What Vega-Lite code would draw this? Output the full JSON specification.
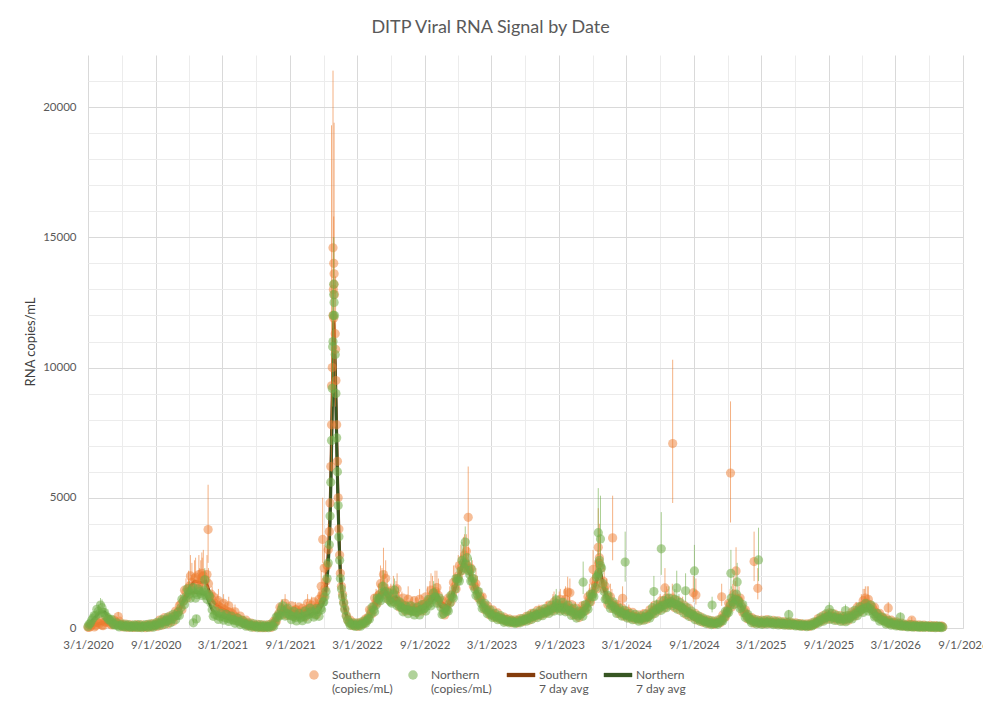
{
  "$schema": "https://vega.github.io/schema/vega-lite/v6.json",
  "width": 875,
  "height": 573,
  "autosize": "none",
  "padding": {"left": 88, "top": 55, "right": 20, "bottom": 83},
  "background": "white",
  "title": {"text": "DITP Viral RNA Signal by Date", "font": "Lato", "fontSize": 18, "fontWeight": "normal", "color": "#595959", "anchor": "middle", "frame": "group", "dx": -35, "offset": 18},
  "config": {
    "view": {"stroke": null},
    "font": "Lato",
    "axis": {"labelFont": "Lato", "labelFontSize": 11.5, "labelColor": "#595959", "titleFont": "Lato", "titleFontSize": 13, "titleColor": "#404040", "titleFontWeight": "normal", "ticks": false},
    "legend": {"labelFont": "Lato", "labelFontSize": 12, "labelColor": "#595959", "symbolStrokeWidth": 0, "padding": 0}
  },
  "datasets": {
    "m": [
      {"d":"2020-03-01","s":30,"n":60,"sa":30,"na":50},
      {"d":"2020-03-08","s":70,"n":190},
      {"d":"2020-03-15","s":130,"n":380,"sa":110,"na":330},
      {"d":"2020-03-22","s":90,"n":470},
      {"d":"2020-03-29","s":210,"n":640,"nh":900},
      {"d":"2020-04-01","s":160,"n":560,"sa":170,"na":600},
      {"d":"2020-04-08","s":110,"n":780,"nh":1100},
      {"d":"2020-04-15","s":240,"n":590,"sa":200,"na":620},
      {"d":"2020-04-22","s":270,"n":420},
      {"d":"2020-04-29","s":170,"n":320},
      {"d":"2020-05-01","s":220,"n":260,"sa":210,"na":260},
      {"d":"2020-05-08","s":150,"n":170},
      {"d":"2020-05-15","s":240,"n":120,"sa":230,"na":130},
      {"d":"2020-05-22","s":440,"n":90,"sh":620},
      {"d":"2020-05-29","s":140,"n":110},
      {"d":"2020-06-01","s":110,"n":80,"sa":120,"na":90},
      {"d":"2020-06-08","s":80,"n":60},
      {"d":"2020-06-15","s":60,"n":90,"sa":75,"na":70},
      {"d":"2020-06-22","s":70,"n":50},
      {"d":"2020-06-29","s":40,"n":70},
      {"d":"2020-07-01","s":60,"n":40,"sa":55,"na":55},
      {"d":"2020-07-08","s":50,"n":80},
      {"d":"2020-07-15","s":80,"n":40,"sa":60,"na":55},
      {"d":"2020-07-22","s":40,"n":60},
      {"d":"2020-07-29","s":60,"n":50},
      {"d":"2020-08-01","s":50,"n":70,"sa":60,"na":60},
      {"d":"2020-08-08","s":90,"n":50},
      {"d":"2020-08-15","s":60,"n":90,"sa":75,"na":75},
      {"d":"2020-08-22","s":110,"n":70},
      {"d":"2020-08-29","s":90,"n":120},
      {"d":"2020-09-01","s":150,"n":110,"sa":130,"na":120},
      {"d":"2020-09-08","s":180,"n":160},
      {"d":"2020-09-15","s":220,"n":190,"sa":210,"na":190},
      {"d":"2020-09-22","s":270,"n":230},
      {"d":"2020-09-29","s":250,"n":300},
      {"d":"2020-10-01","s":340,"n":260,"sa":300,"na":270},
      {"d":"2020-10-08","s":290,"n":330},
      {"d":"2020-10-15","s":410,"n":340,"sa":380,"na":350},
      {"d":"2020-10-22","s":430,"n":460},
      {"d":"2020-10-29","s":580,"n":480,"sh":800},
      {"d":"2020-11-01","s":620,"n":610,"sa":620,"na":580},
      {"d":"2020-11-08","s":920,"n":780,"sh":1300},
      {"d":"2020-11-15","s":1050,"n":1030,"sa":1080,"na":1000},
      {"d":"2020-11-22","s":1380,"n":1200,"sh":1900},
      {"d":"2020-11-29","s":1520,"n":1390,"sh":2200},
      {"d":"2020-12-01","s":1600,"n":1300,"sa":1550,"na":1350,"nh":1800},
      {"d":"2020-12-08","s":1750,"n":1430,"sh":2500},
      {"d":"2020-12-15","s":1900,"n":1340,"sa":1800,"na":1380,"sh":2600,"nh":1700},
      {"d":"2020-12-22","s":1650,"n":1280},
      {"d":"2020-12-29","s":1720,"n":1410,"sh":2300},
      {"d":"2021-01-01","s":1800,"n":1330,"sa":1750,"na":1330,"sh":2600},
      {"d":"2021-01-08","s":2000,"n":1380,"sh":3000},
      {"d":"2021-01-15","s":1850,"n":1250,"sa":1800,"na":1280,"nh":1700},
      {"d":"2021-01-22","s":1700,"n":1300,"sh":2300},
      {"d":"2021-01-29","s":1300,"n":950},
      {"d":"2021-02-01","s":1100,"n":700,"sa":1050,"na":700,"sh":1600},
      {"d":"2021-02-08","s":950,"n":520},
      {"d":"2021-02-15","s":880,"n":480,"sa":870,"na":480,"sh":1300},
      {"d":"2021-02-22","s":800,"n":430,"sh":1150},
      {"d":"2021-03-01","s":760,"n":450,"sa":740,"na":440},
      {"d":"2021-03-08","s":700,"n":390,"sh":1050},
      {"d":"2021-03-15","s":640,"n":370,"sa":640,"na":370,"sh":950},
      {"d":"2021-03-22","s":600,"n":340},
      {"d":"2021-03-29","s":540,"n":320,"sh":800},
      {"d":"2021-04-01","s":460,"n":300,"sa":450,"na":300},
      {"d":"2021-04-08","s":400,"n":270},
      {"d":"2021-04-15","s":340,"n":250,"sa":340,"na":240},
      {"d":"2021-04-22","s":300,"n":210},
      {"d":"2021-04-29","s":240,"n":170},
      {"d":"2021-05-01","s":200,"n":150,"sa":200,"na":150},
      {"d":"2021-05-08","s":150,"n":120},
      {"d":"2021-05-15","s":120,"n":100,"sa":120,"na":100},
      {"d":"2021-05-22","s":90,"n":80},
      {"d":"2021-05-29","s":80,"n":70},
      {"d":"2021-06-01","s":70,"n":60,"sa":65,"na":60},
      {"d":"2021-06-08","s":60,"n":50},
      {"d":"2021-06-15","s":50,"n":60,"sa":50,"na":50},
      {"d":"2021-06-22","s":40,"n":40},
      {"d":"2021-06-29","s":60,"n":40},
      {"d":"2021-07-01","s":50,"n":50,"sa":55,"na":45},
      {"d":"2021-07-08","s":70,"n":60},
      {"d":"2021-07-15","s":110,"n":90,"sa":100,"na":80},
      {"d":"2021-07-22","s":260,"n":210},
      {"d":"2021-07-29","s":460,"n":400},
      {"d":"2021-08-01","s":560,"n":520,"sa":550,"na":500},
      {"d":"2021-08-08","s":760,"n":700,"sh":1100,"nh":950},
      {"d":"2021-08-15","s":680,"n":640,"sa":700,"na":640},
      {"d":"2021-08-22","s":720,"n":560,"sh":1000},
      {"d":"2021-08-29","s":640,"n":520},
      {"d":"2021-09-01","s":600,"n":480,"sa":610,"na":480},
      {"d":"2021-09-08","s":540,"n":440,"sh":850},
      {"d":"2021-09-15","s":700,"n":400,"sa":640,"na":420,"sh":1000},
      {"d":"2021-09-22","s":590,"n":460},
      {"d":"2021-09-29","s":520,"n":380},
      {"d":"2021-10-01","s":560,"n":420,"sa":560,"na":420,"nh":700},
      {"d":"2021-10-08","s":650,"n":450},
      {"d":"2021-10-15","s":700,"n":490,"sa":690,"na":490,"sh":1000},
      {"d":"2021-10-22","s":760,"n":530},
      {"d":"2021-10-29","s":880,"n":640,"sh":1200},
      {"d":"2021-11-01","s":700,"n":560,"sa":730,"na":560},
      {"d":"2021-11-08","s":760,"n":500,"sh":1100},
      {"d":"2021-11-15","s":820,"n":620,"sa":830,"na":600},
      {"d":"2021-11-22","s":980,"n":760},
      {"d":"2021-11-29","s":1250,"n":1000,"sh":1900},
      {"d":"2021-12-01","s":1200,"n":1000,"sa":1200,"na":1000},
      {"d":"2021-12-04","s":1500,"n":1200,"sa":1450,"na":1200},
      {"d":"2021-12-07","s":1800,"n":1400,"sa":1800,"na":1450,"sh":2600},
      {"d":"2021-12-10","s":2400,"n":1900,"sa":2300,"na":1850},
      {"d":"2021-12-13","s":3000,"n":2500,"sa":2900,"na":2400,"sh":4000},
      {"d":"2021-12-16","s":3700,"n":3200,"sa":3700,"na":3200},
      {"d":"2021-12-18","s":4800,"n":4300,"sa":4500,"na":4000},
      {"d":"2021-12-20","s":6200,"n":5600,"sa":5800,"na":5300},
      {"d":"2021-12-22","s":7800,"n":7200,"sa":7300,"na":6700},
      {"d":"2021-12-24","s":10000,"n":9200,"sa":9000,"na":8300},
      {"d":"2021-12-26","s":12000,"n":11000,"sa":10500,"na":9700},
      {"d":"2021-12-27","s":13000,"n":12000,"sa":11200,"na":10400},
      {"d":"2021-12-28","s":14000,"n":12800,"sa":11800,"na":11000},
      {"d":"2021-12-29","s":13600,"n":12500,"sa":11600,"na":10900},
      {"d":"2021-12-30","s":12800,"n":12000,"sa":11200,"na":10600},
      {"d":"2022-01-01","s":11300,"n":10500,"sa":10200,"na":9700},
      {"d":"2022-01-03","s":9500,"n":9000,"sa":8900,"na":8500},
      {"d":"2022-01-05","s":7800,"n":7300,"sa":7400,"na":7000},
      {"d":"2022-01-07","s":6400,"n":6000,"sa":6000,"na":5700},
      {"d":"2022-01-09","s":5000,"n":4700,"sa":4800,"na":4500},
      {"d":"2022-01-11","s":3800,"n":3500,"sa":3700,"na":3500},
      {"d":"2022-01-13","s":2800,"n":2600,"sa":2900,"na":2700},
      {"d":"2022-01-15","s":2100,"n":1900,"sa":2200,"na":2000},
      {"d":"2022-01-18","s":1600,"n":1500,"sa":1600,"na":1500},
      {"d":"2022-01-21","s":1300,"n":1200,"sa":1300,"na":1200},
      {"d":"2022-01-24","s":1000,"n":950,"sa":1000,"na":950},
      {"d":"2022-01-27","s":750,"n":700,"sa":780,"na":720},
      {"d":"2022-01-31","s":500,"n":450,"sa":550,"na":500},
      {"d":"2022-02-04","s":320,"n":300,"sa":360,"na":330},
      {"d":"2022-02-08","s":220,"n":200},
      {"d":"2022-02-15","s":150,"n":140,"sa":160,"na":140},
      {"d":"2022-02-22","s":120,"n":100},
      {"d":"2022-03-01","s":110,"n":120,"sa":120,"na":110},
      {"d":"2022-03-08","s":130,"n":110},
      {"d":"2022-03-15","s":170,"n":150,"sa":180,"na":150},
      {"d":"2022-03-22","s":260,"n":200},
      {"d":"2022-03-29","s":300,"n":290},
      {"d":"2022-04-01","s":420,"n":380,"sa":420,"na":370},
      {"d":"2022-04-08","s":650,"n":560,"sh":950},
      {"d":"2022-04-15","s":820,"n":700,"sa":800,"na":700,"sh":1300},
      {"d":"2022-04-22","s":1000,"n":880,"sh":1500},
      {"d":"2022-04-29","s":1250,"n":1100,"sh":1700},
      {"d":"2022-05-01","s":1300,"n":1150,"sa":1300,"na":1150},
      {"d":"2022-05-08","s":1600,"n":1350,"sh":2300,"nh":1800},
      {"d":"2022-05-15","s":1550,"n":1420,"sa":1500,"na":1380,"sh":2100},
      {"d":"2022-05-22","s":1400,"n":1250,"sh":1900},
      {"d":"2022-05-29","s":1200,"n":1050},
      {"d":"2022-06-01","s":1100,"n":1000,"sa":1120,"na":1000,"sh":1700},
      {"d":"2022-06-08","s":1350,"n":1300,"sh":2000,"nh":1700},
      {"d":"2022-06-15","s":1250,"n":1100,"sa":1200,"na":1100,"sh":1800},
      {"d":"2022-06-22","s":1000,"n":900,"sh":1600},
      {"d":"2022-06-29","s":950,"n":800},
      {"d":"2022-07-01","s":900,"n":780,"sa":880,"na":780,"sh":1400},
      {"d":"2022-07-08","s":850,"n":720},
      {"d":"2022-07-15","s":800,"n":700,"sa":820,"na":700,"sh":1300},
      {"d":"2022-07-22","s":880,"n":680},
      {"d":"2022-07-29","s":760,"n":650,"sh":1200},
      {"d":"2022-08-01","s":800,"n":640,"sa":790,"na":640},
      {"d":"2022-08-08","s":740,"n":610,"sh":1150},
      {"d":"2022-08-15","s":820,"n":650,"sa":800,"na":650},
      {"d":"2022-08-22","s":850,"n":700,"sh":1300},
      {"d":"2022-08-29","s":900,"n":730},
      {"d":"2022-09-01","s":920,"n":760,"sa":920,"na":760},
      {"d":"2022-09-08","s":1000,"n":850,"sh":1600},
      {"d":"2022-09-15","s":1100,"n":950,"sa":1100,"na":950,"sh":1800},
      {"d":"2022-09-22","s":1300,"n":1100,"sh":2000},
      {"d":"2022-09-29","s":1350,"n":1200,"sh":2200,"nh":1700},
      {"d":"2022-10-01","s":1400,"n":1180,"sa":1380,"na":1200},
      {"d":"2022-10-08","s":1250,"n":1050,"sh":1900},
      {"d":"2022-10-15","s":1000,"n":800,"sa":1000,"na":820},
      {"d":"2022-10-22","s":700,"n":560},
      {"d":"2022-10-29","s":760,"n":620},
      {"d":"2022-11-01","s":850,"n":700,"sa":830,"na":700},
      {"d":"2022-11-08","s":1100,"n":950,"sh":1600},
      {"d":"2022-11-15","s":1300,"n":1200,"sa":1300,"na":1180,"sh":1900},
      {"d":"2022-11-22","s":1600,"n":1500,"sh":2400},
      {"d":"2022-11-29","s":1900,"n":1800},
      {"d":"2022-12-01","s":2000,"n":1900,"sa":2000,"na":1900,"sh":2800},
      {"d":"2022-12-08","s":2300,"n":2200,"sh":3200},
      {"d":"2022-12-15","s":2650,"n":2500,"sa":2550,"na":2450,"sh":3500,"nh":3200},
      {"d":"2022-12-22","s":2500,"n":2450},
      {"d":"2022-12-29","s":2300,"n":2200,"sh":3100},
      {"d":"2023-01-01","s":2200,"n":2050,"sa":2200,"na":2100},
      {"d":"2023-01-08","s":1900,"n":1800,"sh":2600},
      {"d":"2023-01-15","s":1600,"n":1500,"sa":1600,"na":1500},
      {"d":"2023-01-22","s":1400,"n":1300,"sh":2000},
      {"d":"2023-01-29","s":1200,"n":1100},
      {"d":"2023-02-01","s":1050,"n":950,"sa":1050,"na":950},
      {"d":"2023-02-08","s":880,"n":800,"sh":1300},
      {"d":"2023-02-15","s":760,"n":700,"sa":760,"na":700},
      {"d":"2023-02-22","s":650,"n":600},
      {"d":"2023-03-01","s":560,"n":500,"sa":560,"na":500},
      {"d":"2023-03-08","s":500,"n":460},
      {"d":"2023-03-15","s":450,"n":420,"sa":450,"na":410},
      {"d":"2023-03-22","s":420,"n":380},
      {"d":"2023-03-29","s":380,"n":350},
      {"d":"2023-04-01","s":350,"n":300,"sa":350,"na":300},
      {"d":"2023-04-08","s":320,"n":280},
      {"d":"2023-04-15","s":300,"n":250,"sa":290,"na":250},
      {"d":"2023-04-22","s":280,"n":240},
      {"d":"2023-04-29","s":260,"n":230},
      {"d":"2023-05-01","s":250,"n":220,"sa":250,"na":220},
      {"d":"2023-05-08","s":240,"n":210},
      {"d":"2023-05-15","s":270,"n":240,"sa":270,"na":240},
      {"d":"2023-05-22","s":290,"n":270},
      {"d":"2023-05-29","s":320,"n":300},
      {"d":"2023-06-01","s":340,"n":320,"sa":340,"na":320},
      {"d":"2023-06-08","s":380,"n":360},
      {"d":"2023-06-15","s":430,"n":400,"sa":430,"na":400,"sh":700},
      {"d":"2023-06-22","s":470,"n":440},
      {"d":"2023-06-29","s":500,"n":480},
      {"d":"2023-07-01","s":520,"n":500,"sa":520,"na":500},
      {"d":"2023-07-08","s":560,"n":520,"sh":900},
      {"d":"2023-07-15","s":600,"n":560,"sa":600,"na":550},
      {"d":"2023-07-22","s":620,"n":580},
      {"d":"2023-07-29","s":660,"n":610,"sh":1000},
      {"d":"2023-08-01","s":700,"n":650,"sa":700,"na":650},
      {"d":"2023-08-08","s":750,"n":700},
      {"d":"2023-08-15","s":800,"n":750,"sa":800,"na":750,"sh":1300},
      {"d":"2023-08-22","s":850,"n":800,"nh":1300},
      {"d":"2023-08-29","s":860,"n":760},
      {"d":"2023-09-01","s":900,"n":800,"sa":880,"na":790,"sh":1400},
      {"d":"2023-09-08","s":850,"n":750},
      {"d":"2023-09-15","s":900,"n":800,"sa":880,"na":780,"sh":1500},
      {"d":"2023-09-22","s":800,"n":700},
      {"d":"2023-09-29","s":760,"n":680,"sh":1200},
      {"d":"2023-10-01","s":750,"n":650,"sa":740,"na":650},
      {"d":"2023-10-08","s":700,"n":600},
      {"d":"2023-10-15","s":600,"n":520,"sa":600,"na":520,"sh":1000},
      {"d":"2023-10-22","s":550,"n":470},
      {"d":"2023-10-29","s":600,"n":520},
      {"d":"2023-11-01","s":650,"n":560,"sa":650,"na":560,"sh":1000},
      {"d":"2023-11-08","s":750,"n":650},
      {"d":"2023-11-15","s":900,"n":800,"sa":900,"na":800,"sh":1400},
      {"d":"2023-11-22","s":1100,"n":1000,"sh":1700},
      {"d":"2023-11-29","s":1300,"n":1200},
      {"d":"2023-12-01","s":1400,"n":1300,"sa":1400,"na":1300,"sh":2100},
      {"d":"2023-12-08","s":1650,"n":1550,"sh":2600,"nh":2200},
      {"d":"2023-12-15","s":2000,"n":2000,"sa":2000,"na":1950,"sh":3000},
      {"d":"2023-12-19","s":2500,"n":2600,"sa":2300,"na":2300},
      {"d":"2023-12-22","s":2300,"n":2400,"sh":3500},
      {"d":"2023-12-29","s":1800,"n":1700},
      {"d":"2024-01-01","s":1500,"n":1400,"sa":1550,"na":1450,"sh":2300},
      {"d":"2024-01-08","s":1200,"n":1100,"sh":1900},
      {"d":"2024-01-15","s":1050,"n":950,"sa":1050,"na":950},
      {"d":"2024-01-22","s":950,"n":850,"sh":1500},
      {"d":"2024-01-29","s":850,"n":800},
      {"d":"2024-02-01","s":800,"n":700,"sa":800,"na":700},
      {"d":"2024-02-08","s":700,"n":650,"sh":1100},
      {"d":"2024-02-15","s":650,"n":600,"sa":650,"na":600},
      {"d":"2024-02-22","s":600,"n":550},
      {"d":"2024-02-29","s":550,"n":500},
      {"d":"2024-03-01","s":550,"n":500,"sa":550,"na":500},
      {"d":"2024-03-08","s":500,"n":450,"sh":900},
      {"d":"2024-03-15","s":480,"n":420,"sa":480,"na":420},
      {"d":"2024-03-22","s":450,"n":400},
      {"d":"2024-03-29","s":420,"n":380},
      {"d":"2024-04-01","s":400,"n":350,"sa":400,"na":350},
      {"d":"2024-04-08","s":380,"n":350},
      {"d":"2024-04-15","s":400,"n":380,"sa":400,"na":370,"sh":700},
      {"d":"2024-04-22","s":430,"n":400},
      {"d":"2024-04-29","s":470,"n":430},
      {"d":"2024-05-01","s":500,"n":450,"sa":500,"na":450},
      {"d":"2024-05-08","s":600,"n":550,"sh":1000},
      {"d":"2024-05-15","s":700,"n":650,"sa":700,"na":650},
      {"d":"2024-05-22","s":750,"n":700,"nh":1100},
      {"d":"2024-05-29","s":800,"n":750},
      {"d":"2024-06-01","s":850,"n":800,"sa":850,"na":800,"sh":1300},
      {"d":"2024-06-08","s":900,"n":850},
      {"d":"2024-06-15","s":950,"n":900,"sa":950,"na":900,"nh":1400},
      {"d":"2024-06-22","s":1000,"n":950,"sh":1500},
      {"d":"2024-06-29","s":1000,"n":950},
      {"d":"2024-07-01","s":1000,"n":1000,"sa":1000,"na":980},
      {"d":"2024-07-08","s":950,"n":950,"sh":1400},
      {"d":"2024-07-15","s":900,"n":900,"sa":900,"na":900},
      {"d":"2024-07-22","s":850,"n":850,"nh":1300},
      {"d":"2024-07-29","s":800,"n":800},
      {"d":"2024-08-01","s":750,"n":750,"sa":760,"na":760,"sh":1200},
      {"d":"2024-08-08","s":700,"n":680},
      {"d":"2024-08-15","s":620,"n":600,"sa":620,"na":600},
      {"d":"2024-08-22","s":560,"n":550},
      {"d":"2024-08-29","s":500,"n":500},
      {"d":"2024-09-01","s":460,"n":450,"sa":460,"na":450},
      {"d":"2024-09-08","s":400,"n":400},
      {"d":"2024-09-15","s":350,"n":350,"sa":350,"na":350},
      {"d":"2024-09-22","s":320,"n":300},
      {"d":"2024-09-29","s":280,"n":260},
      {"d":"2024-10-01","s":260,"n":250,"sa":260,"na":250},
      {"d":"2024-10-08","s":230,"n":220},
      {"d":"2024-10-15","s":210,"n":200,"sa":210,"na":200},
      {"d":"2024-10-22","s":200,"n":180},
      {"d":"2024-10-29","s":200,"n":170},
      {"d":"2024-11-01","s":210,"n":190,"sa":210,"na":190},
      {"d":"2024-11-08","s":240,"n":210},
      {"d":"2024-11-15","s":320,"n":280,"sa":320,"na":280},
      {"d":"2024-11-22","s":450,"n":400},
      {"d":"2024-11-29","s":600,"n":550},
      {"d":"2024-12-01","s":700,"n":650,"sa":700,"na":650},
      {"d":"2024-12-08","s":900,"n":850,"sh":1500},
      {"d":"2024-12-15","s":1050,"n":1000,"sa":1050,"na":1000,"sh":1700,"nh":1500},
      {"d":"2024-12-22","s":1150,"n":1100,"sh":1800},
      {"d":"2024-12-29","s":1100,"n":1050},
      {"d":"2025-01-01","s":1050,"n":1000,"sa":1050,"na":1000,"sh":1600},
      {"d":"2025-01-08","s":850,"n":800},
      {"d":"2025-01-15","s":650,"n":600,"sa":650,"na":600},
      {"d":"2025-01-22","s":500,"n":450},
      {"d":"2025-01-29","s":400,"n":350},
      {"d":"2025-02-01","s":330,"n":300,"sa":330,"na":300},
      {"d":"2025-02-08","s":280,"n":250},
      {"d":"2025-02-15","s":250,"n":230,"sa":250,"na":230},
      {"d":"2025-02-22","s":230,"n":200},
      {"d":"2025-03-01","s":220,"n":210,"sa":220,"na":210},
      {"d":"2025-03-08","s":220,"n":200},
      {"d":"2025-03-15","s":230,"n":200,"sa":230,"na":200},
      {"d":"2025-03-22","s":240,"n":210},
      {"d":"2025-03-29","s":220,"n":200},
      {"d":"2025-04-01","s":220,"n":190,"sa":220,"na":190},
      {"d":"2025-04-08","s":210,"n":180},
      {"d":"2025-04-15","s":200,"n":180,"sa":200,"na":180},
      {"d":"2025-04-22","s":190,"n":170},
      {"d":"2025-04-29","s":180,"n":160},
      {"d":"2025-05-01","s":180,"n":160,"sa":180,"na":160},
      {"d":"2025-05-08","s":170,"n":150},
      {"d":"2025-05-15","s":170,"n":150,"sa":170,"na":150},
      {"d":"2025-05-22","s":160,"n":140},
      {"d":"2025-05-29","s":150,"n":130},
      {"d":"2025-06-01","s":140,"n":120,"sa":140,"na":120},
      {"d":"2025-06-08","s":130,"n":110},
      {"d":"2025-06-15","s":120,"n":100,"sa":120,"na":100},
      {"d":"2025-06-22","s":110,"n":100},
      {"d":"2025-06-29","s":100,"n":90},
      {"d":"2025-07-01","s":100,"n":90,"sa":100,"na":90},
      {"d":"2025-07-08","s":100,"n":90},
      {"d":"2025-07-15","s":110,"n":100,"sa":110,"na":100},
      {"d":"2025-07-22","s":150,"n":130},
      {"d":"2025-07-29","s":200,"n":180},
      {"d":"2025-08-01","s":250,"n":230,"sa":250,"na":230},
      {"d":"2025-08-08","s":300,"n":280},
      {"d":"2025-08-15","s":350,"n":330,"sa":350,"na":330},
      {"d":"2025-08-22","s":400,"n":380,"sh":700},
      {"d":"2025-08-29","s":450,"n":420},
      {"d":"2025-09-01","s":480,"n":450,"sa":480,"na":450,"nh":700},
      {"d":"2025-09-08","s":460,"n":430},
      {"d":"2025-09-15","s":430,"n":400,"sa":430,"na":400},
      {"d":"2025-09-22","s":400,"n":380},
      {"d":"2025-09-29","s":380,"n":350},
      {"d":"2025-10-01","s":380,"n":350,"sa":380,"na":350},
      {"d":"2025-10-08","s":370,"n":340},
      {"d":"2025-10-15","s":360,"n":330,"sa":360,"na":330},
      {"d":"2025-10-22","s":380,"n":350},
      {"d":"2025-10-29","s":420,"n":380},
      {"d":"2025-11-01","s":480,"n":430,"sa":480,"na":430},
      {"d":"2025-11-08","s":550,"n":500},
      {"d":"2025-11-15","s":620,"n":560,"sa":620,"na":560,"sh":1000},
      {"d":"2025-11-22","s":700,"n":620},
      {"d":"2025-11-29","s":800,"n":700,"sh":1300},
      {"d":"2025-12-01","s":850,"n":720,"sa":850,"na":720},
      {"d":"2025-12-08","s":900,"n":760,"sh":1500},
      {"d":"2025-12-15","s":950,"n":800,"sa":950,"na":800,"sh":1600},
      {"d":"2025-12-22","s":900,"n":750},
      {"d":"2025-12-29","s":800,"n":650},
      {"d":"2026-01-01","s":700,"n":550,"sa":700,"na":550},
      {"d":"2026-01-08","s":600,"n":450},
      {"d":"2026-01-15","s":500,"n":380,"sa":500,"na":380},
      {"d":"2026-01-22","s":420,"n":320},
      {"d":"2026-01-29","s":350,"n":280},
      {"d":"2026-02-01","s":300,"n":240,"sa":300,"na":240},
      {"d":"2026-02-08","s":250,"n":200},
      {"d":"2026-02-15","s":220,"n":180,"sa":220,"na":180},
      {"d":"2026-02-22","s":200,"n":150},
      {"d":"2026-03-01","s":170,"n":130,"sa":170,"na":130},
      {"d":"2026-03-08","s":140,"n":110},
      {"d":"2026-03-15","s":120,"n":100,"sa":120,"na":100},
      {"d":"2026-03-22","s":110,"n":90},
      {"d":"2026-03-29","s":100,"n":80},
      {"d":"2026-04-01","s":90,"n":70,"sa":90,"na":70},
      {"d":"2026-04-08","s":80,"n":70},
      {"d":"2026-04-15","s":80,"n":60,"sa":80,"na":60},
      {"d":"2026-04-22","s":70,"n":60},
      {"d":"2026-04-29","s":70,"n":60},
      {"d":"2026-05-01","s":70,"n":60,"sa":70,"na":60},
      {"d":"2026-05-08","s":60,"n":50},
      {"d":"2026-05-15","s":60,"n":50,"sa":60,"na":50},
      {"d":"2026-05-22","s":60,"n":50},
      {"d":"2026-05-29","s":60,"n":50},
      {"d":"2026-06-01","s":50,"n":40,"sa":50,"na":40},
      {"d":"2026-06-08","s":50,"n":40},
      {"d":"2026-06-15","s":50,"n":40,"sa":50,"na":40},
      {"d":"2026-06-22","s":50,"n":40},
      {"d":"2026-06-29","s":50,"n":40},
      {"d":"2026-07-01","s":50,"n":40,"sa":50,"na":40},
      {"d":"2026-07-08","s":40,"n":40},
      {"d":"2020-03-04","s":20,"n":140},{"d":"2020-03-11","s":130,"n":300},{"d":"2020-03-18","s":40,"n":480},{"d":"2020-03-25","s":220,"n":720},
      {"d":"2020-04-04","s":300,"n":880,"nh":1150},{"d":"2020-04-11","s":90,"n":600},{"d":"2020-04-18","s":220,"n":450},{"d":"2020-04-25","s":340,"n":330},
      {"d":"2020-05-04","s":120,"n":330},{"d":"2020-05-11","s":300,"n":120},{"d":"2020-05-18","s":150,"n":200},{"d":"2020-05-25","s":260,"n":40},
      {"d":"2020-06-04","s":40,"n":150},{"d":"2020-06-11","s":150,"n":30},{"d":"2020-06-18","s":20,"n":130},{"d":"2020-06-25","s":120,"n":20},
      {"d":"2020-07-04","s":20,"n":120},{"d":"2020-07-11","s":130,"n":20},{"d":"2020-07-18","s":20,"n":130},{"d":"2020-07-25","s":120,"n":10},
      {"d":"2020-08-04","s":10,"n":130},{"d":"2020-08-11","s":140,"n":20},{"d":"2020-08-18","s":30,"n":160},{"d":"2020-08-25","s":170,"n":30},
      {"d":"2020-09-04","s":60,"n":220},{"d":"2020-09-11","s":300,"n":90},{"d":"2020-09-18","s":110,"n":320},{"d":"2020-09-25","s":400,"n":140},
      {"d":"2020-10-04","s":160,"n":420},{"d":"2020-10-11","s":470,"n":200},{"d":"2020-10-18","s":250,"n":520},{"d":"2020-10-25","s":650,"n":320},
      {"d":"2020-11-04","s":850,"n":480},{"d":"2020-11-11","s":700,"n":1100},{"d":"2020-11-18","s":1450,"n":900},{"d":"2020-11-25","s":1150,"n":1500},
      {"d":"2020-12-04","s":2000,"n":1150,"sh":2800},{"d":"2020-12-11","s":1450,"n":1550},{"d":"2020-12-18","s":1950,"n":1150,"sh":2700},{"d":"2020-12-25","s":1500,"n":1500},
      {"d":"2021-01-04","s":2100,"n":1250,"sh":2900},{"d":"2021-01-11","s":1500,"n":1450},{"d":"2021-01-18","s":2050,"n":1100,"sh":2800},{"d":"2021-01-25","s":1250,"n":1200},
      {"d":"2021-02-04","s":1200,"n":450},{"d":"2021-02-11","s":700,"n":650},{"d":"2021-02-18","s":1050,"n":330,"sh":1500},{"d":"2021-02-25","s":620,"n":560},
      {"d":"2021-03-04","s":950,"n":300,"sh":1300},{"d":"2021-03-11","s":500,"n":520},{"d":"2021-03-18","s":850,"n":250,"sh":1200},{"d":"2021-03-25","s":420,"n":460},
      {"d":"2021-04-04","s":620,"n":180,"sh":900},{"d":"2021-04-11","s":280,"n":380},{"d":"2021-04-18","s":460,"n":130},{"d":"2021-04-25","s":190,"n":290},
      {"d":"2021-05-04","s":300,"n":70},{"d":"2021-05-11","s":80,"n":200},{"d":"2021-05-18","s":190,"n":30},{"d":"2021-05-25","s":30,"n":160},
      {"d":"2021-06-04","s":140,"n":10},{"d":"2021-06-11","s":10,"n":130},{"d":"2021-06-18","s":120,"n":10},{"d":"2021-06-25","s":10,"n":110},
      {"d":"2021-07-04","s":130,"n":10},{"d":"2021-07-11","s":20,"n":150},{"d":"2021-07-18","s":260,"n":60},{"d":"2021-07-25","s":250,"n":420},
      {"d":"2021-08-04","s":800,"n":480},{"d":"2021-08-11","s":520,"n":850,"nh":1100},{"d":"2021-08-18","s":950,"n":460,"sh":1300},{"d":"2021-08-25","s":480,"n":760},
      {"d":"2021-09-04","s":850,"n":320},{"d":"2021-09-11","s":450,"n":640},{"d":"2021-09-18","s":700,"n":270},{"d":"2021-09-25","s":800,"n":560},
      {"d":"2021-10-04","s":750,"n":280},{"d":"2021-10-11","s":420,"n":650},{"d":"2021-10-18","s":950,"n":340,"sh":1300},{"d":"2021-10-25","s":580,"n":760},
      {"d":"2021-11-04","s":1000,"n":420},{"d":"2021-11-11","s":520,"n":740},{"d":"2021-11-18","s":1100,"n":450,"sh":1500},{"d":"2021-11-25","s":1250,"n":700},
      {"d":"2022-02-11","s":300,"n":100},{"d":"2022-02-18","s":90,"n":200},{"d":"2022-02-25","s":200,"n":60},
      {"d":"2022-03-04","s":60,"n":190},{"d":"2022-03-11","s":220,"n":70},{"d":"2022-03-18","s":150,"n":260},{"d":"2022-03-25","s":350,"n":180},
      {"d":"2022-04-04","s":700,"n":350},{"d":"2022-04-11","s":550,"n":800},{"d":"2022-04-18","s":1150,"n":620},{"d":"2022-04-25","s":950,"n":1150},
      {"d":"2022-05-04","s":1700,"n":1050,"sh":2400},{"d":"2022-05-11","s":1300,"n":1600,"nh":2200},{"d":"2022-05-18","s":1900,"n":1150,"sh":2600},{"d":"2022-05-25","s":1100,"n":1350},
      {"d":"2022-06-04","s":1450,"n":950},{"d":"2022-06-11","s":1000,"n":1450,"nh":1900},{"d":"2022-06-18","s":1500,"n":850,"sh":2100},{"d":"2022-06-25","s":800,"n":1000},
      {"d":"2022-07-04","s":1150,"n":620},{"d":"2022-07-11","s":650,"n":850},{"d":"2022-07-18","s":1100,"n":550,"sh":1600},{"d":"2022-07-25","s":650,"n":850},
      {"d":"2022-08-04","s":1050,"n":500},{"d":"2022-08-11","s":600,"n":800},{"d":"2022-08-18","s":1100,"n":500,"sh":1500},{"d":"2022-08-25","s":650,"n":900},
      {"d":"2022-09-04","s":1200,"n":650},{"d":"2022-09-11","s":950,"n":1100},{"d":"2022-09-18","s":1450,"n":850,"sh":2100},{"d":"2022-09-25","s":1200,"n":1350,"nh":1800},
      {"d":"2022-10-04","s":1550,"n":950,"sh":2200},{"d":"2022-10-11","s":950,"n":1150},{"d":"2022-10-18","s":1050,"n":520},{"d":"2022-10-25","s":500,"n":750},
      {"d":"2022-11-04","s":1150,"n":650},{"d":"2022-11-11","s":1000,"n":1250},{"d":"2022-11-18","s":1750,"n":1150,"sh":2400},{"d":"2022-11-25","s":1500,"n":1900},
      {"d":"2022-12-04","s":2400,"n":1800},{"d":"2022-12-11","s":2200,"n":2600,"nh":3300},{"d":"2022-12-18","s":2800,"n":2300,"sh":3600},{"d":"2022-12-25","s":2400,"n":2700},
      {"d":"2023-01-04","s":2300,"n":1800},{"d":"2023-01-11","s":1600,"n":1900},{"d":"2023-01-18","s":1700,"n":1250,"sh":2300},{"d":"2023-01-25","s":1150,"n":1400},
      {"d":"2023-02-04","s":1200,"n":750},{"d":"2023-02-11","s":700,"n":950},{"d":"2023-02-18","s":850,"n":550},{"d":"2023-02-25","s":500,"n":700},
      {"d":"2023-03-04","s":700,"n":400},{"d":"2023-03-11","s":400,"n":560},{"d":"2023-03-18","s":580,"n":320},{"d":"2023-03-25","s":330,"n":480},
      {"d":"2023-04-04","s":420,"n":220},{"d":"2023-04-11","s":240,"n":330},{"d":"2023-04-18","s":350,"n":200},{"d":"2023-04-25","s":200,"n":300},
      {"d":"2023-05-04","s":310,"n":170},{"d":"2023-05-11","s":190,"n":290},{"d":"2023-05-18","s":360,"n":200},{"d":"2023-05-25","s":240,"n":360},
      {"d":"2023-06-04","s":450,"n":260},{"d":"2023-06-11","s":300,"n":480},{"d":"2023-06-18","s":560,"n":330},{"d":"2023-06-25","s":390,"n":570},
      {"d":"2023-07-04","s":680,"n":400},{"d":"2023-07-11","s":480,"n":660},{"d":"2023-07-18","s":730,"n":470},{"d":"2023-07-25","s":560,"n":740},
      {"d":"2023-08-04","s":880,"n":560},{"d":"2023-08-11","s":650,"n":880},{"d":"2023-08-18","s":1000,"n":650,"sh":1400},{"d":"2023-08-25","s":720,"n":950},
      {"d":"2023-09-04","s":1100,"n":650,"sh":1500},{"d":"2023-09-11","s":700,"n":980},{"d":"2023-09-18","s":1100,"n":620,"sh":1600},{"d":"2023-09-25","s":640,"n":880},
      {"d":"2023-10-04","s":900,"n":480},{"d":"2023-10-11","s":500,"n":760},{"d":"2023-10-18","s":760,"n":380},{"d":"2023-10-25","s":400,"n":650},
      {"d":"2023-11-04","s":860,"n":450},{"d":"2023-11-11","s":650,"n":900},{"d":"2023-11-18","s":1200,"n":720},{"d":"2023-11-25","s":1000,"n":1300},
      {"d":"2023-12-04","s":1800,"n":1200},{"d":"2023-12-11","s":1500,"n":1950,"nh":2600},{"d":"2023-12-17","s":2500,"n":2100},{"d":"2023-12-25","s":1700,"n":2300},
      {"d":"2024-01-04","s":1600,"n":1100},{"d":"2024-01-11","s":900,"n":1250},{"d":"2024-01-18","s":1200,"n":750,"sh":1700},{"d":"2024-01-25","s":750,"n":1000},
      {"d":"2024-02-04","s":900,"n":560},{"d":"2024-02-11","s":550,"n":760},{"d":"2024-02-18","s":780,"n":460},{"d":"2024-02-25","s":450,"n":680},
      {"d":"2024-03-04","s":650,"n":380},{"d":"2024-03-11","s":380,"n":560},{"d":"2024-03-18","s":600,"n":320},{"d":"2024-03-25","s":330,"n":520},
      {"d":"2024-04-04","s":500,"n":260},{"d":"2024-04-11","s":300,"n":470},{"d":"2024-04-18","s":550,"n":300},{"d":"2024-04-25","s":340,"n":540},
      {"d":"2024-05-04","s":700,"n":380},{"d":"2024-05-11","s":520,"n":780},{"d":"2024-05-18","s":880,"n":560},{"d":"2024-05-25","s":650,"n":900},
      {"d":"2024-06-04","s":1050,"n":680},{"d":"2024-06-11","s":760,"n":1050},{"d":"2024-06-18","s":1150,"n":780,"sh":1600},{"d":"2024-06-25","s":880,"n":1150,"nh":1600},
      {"d":"2024-07-04","s":1150,"n":850,"sh":1700},{"d":"2024-07-11","s":780,"n":1100,"nh":1500},{"d":"2024-07-18","s":1050,"n":720},{"d":"2024-07-25","s":680,"n":980},
      {"d":"2024-08-04","s":880,"n":580},{"d":"2024-08-11","s":520,"n":800},{"d":"2024-08-18","s":760,"n":450},{"d":"2024-08-25","s":420,"n":650},
      {"d":"2024-09-04","s":560,"n":320},{"d":"2024-09-11","s":300,"n":480},{"d":"2024-09-18","s":430,"n":250},{"d":"2024-09-25","s":220,"n":380},
      {"d":"2024-10-04","s":330,"n":170},{"d":"2024-10-11","s":160,"n":300},{"d":"2024-10-18","s":280,"n":130},{"d":"2024-10-25","s":140,"n":260},
      {"d":"2024-11-04","s":300,"n":140},{"d":"2024-11-11","s":200,"n":340},{"d":"2024-11-18","s":500,"n":270},{"d":"2024-11-25","s":420,"n":640},
      {"d":"2024-12-04","s":950,"n":600},{"d":"2024-12-11","s":800,"n":1150,"nh":1600},{"d":"2024-12-18","s":1300,"n":900,"sh":2000},{"d":"2024-12-25","s":950,"n":1300},
      {"d":"2025-01-04","s":1150,"n":750},{"d":"2025-01-11","s":600,"n":900},{"d":"2025-01-18","s":700,"n":400},{"d":"2025-01-25","s":350,"n":520},
      {"d":"2025-02-04","s":400,"n":200},{"d":"2025-02-11","s":190,"n":330},{"d":"2025-02-18","s":320,"n":150},{"d":"2025-02-25","s":170,"n":280},
      {"d":"2025-03-04","s":300,"n":140},{"d":"2025-03-11","s":160,"n":290},{"d":"2025-03-18","s":320,"n":150},{"d":"2025-03-25","s":170,"n":300},
      {"d":"2025-04-04","s":290,"n":130},{"d":"2025-04-11","s":150,"n":260},{"d":"2025-04-18","s":270,"n":120},{"d":"2025-04-25","s":130,"n":240},
      {"d":"2025-05-04","s":250,"n":110},{"d":"2025-05-11","s":120,"n":220},{"d":"2025-05-18","s":240,"n":100},{"d":"2025-05-25","s":110,"n":200},
      {"d":"2025-06-04","s":200,"n":80},{"d":"2025-06-11","s":90,"n":170},{"d":"2025-06-18","s":170,"n":60},{"d":"2025-06-25","s":70,"n":150},
      {"d":"2025-07-04","s":160,"n":50},{"d":"2025-07-11","s":60,"n":150},{"d":"2025-07-18","s":200,"n":80},{"d":"2025-07-25","s":130,"n":240},
      {"d":"2025-08-04","s":360,"n":180},{"d":"2025-08-11","s":250,"n":420},{"d":"2025-08-18","s":480,"n":260},{"d":"2025-08-25","s":330,"n":540},
      {"d":"2025-09-04","s":580,"n":330},{"d":"2025-09-11","s":350,"n":560},{"d":"2025-09-18","s":530,"n":290},{"d":"2025-09-25","s":300,"n":480},
      {"d":"2025-10-04","s":480,"n":250},{"d":"2025-10-11","s":270,"n":440},{"d":"2025-10-18","s":470,"n":240},{"d":"2025-10-25","s":300,"n":480},
      {"d":"2025-11-04","s":620,"n":350},{"d":"2025-11-11","s":460,"n":680},{"d":"2025-11-18","s":800,"n":470},{"d":"2025-11-25","s":620,"n":820},
      {"d":"2025-12-04","s":1050,"n":600,"sh":1500},{"d":"2025-12-11","s":780,"n":950},{"d":"2025-12-18","s":1100,"n":650,"sh":1600},{"d":"2025-12-25","s":720,"n":880},
      {"d":"2026-01-04","s":800,"n":420},{"d":"2026-01-11","s":430,"n":560},{"d":"2026-01-18","s":560,"n":260},{"d":"2026-01-25","s":300,"n":420},
      {"d":"2026-02-04","s":380,"n":150},{"d":"2026-02-11","s":170,"n":290},{"d":"2026-02-18","s":300,"n":110},{"d":"2026-02-25","s":130,"n":230},
      {"d":"2026-03-04","s":240,"n":80},{"d":"2026-03-11","s":90,"n":180},{"d":"2026-03-18","s":190,"n":60},{"d":"2026-03-25","s":70,"n":150},
      {"d":"2026-04-04","s":150,"n":40},{"d":"2026-04-11","s":50,"n":130},{"d":"2026-04-18","s":130,"n":30},{"d":"2026-04-25","s":40,"n":110},
      {"d":"2026-05-04","s":120,"n":20},{"d":"2026-05-11","s":30,"n":100},{"d":"2026-05-18","s":110,"n":20},{"d":"2026-05-25","s":30,"n":90},
      {"d":"2026-06-04","s":100,"n":20},{"d":"2026-06-11","s":20,"n":80},{"d":"2026-06-18","s":90,"n":10},{"d":"2026-06-25","s":20,"n":80},
      {"d":"2026-07-04","s":80,"n":10}
    ],
    "x": [
      {"d":"2020-12-27","k":"S","v":2050,"lo":1500,"hi":2800},
      {"d":"2021-01-05","k":"S","v":1950,"lo":1400,"hi":2700},
      {"d":"2021-01-21","k":"S","v":3780,"lo":2500,"hi":5500},
      {"d":"2020-12-12","k":"N","v":200,"lo":120,"hi":320},
      {"d":"2020-12-20","k":"N","v":350,"lo":250,"hi":500},
      {"d":"2021-01-12","k":"N","v":1850,"lo":1400,"hi":2300},
      {"d":"2021-11-24","k":"S","v":1600,"lo":1200,"hi":2200},
      {"d":"2021-11-28","k":"S","v":3400,"lo":2500,"hi":5000},
      {"d":"2021-12-02","k":"S","v":2300,"lo":1700,"hi":3200},
      {"d":"2021-12-22","k":"S","v":9300,"lo":6000,"hi":19300},
      {"d":"2021-12-26","k":"S","v":14600,"lo":11500,"hi":21400},
      {"d":"2021-12-28","k":"S","v":11900,"lo":9000,"hi":15800},
      {"d":"2021-12-29","k":"S","v":13200,"lo":10000,"hi":19400},
      {"d":"2022-01-02","k":"S","v":10700,"lo":8500,"hi":13500},
      {"d":"2021-12-25","k":"N","v":10800,"lo":8500,"hi":13000},
      {"d":"2021-12-28","k":"N","v":13200,"lo":11000,"hi":15000},
      {"d":"2022-05-12","k":"S","v":2050,"lo":1600,"hi":3080},
      {"d":"2022-12-23","k":"S","v":2950,"lo":2300,"hi":3600},
      {"d":"2022-12-28","k":"S","v":4250,"lo":2900,"hi":6200},
      {"d":"2022-12-20","k":"N","v":3300,"lo":2600,"hi":3900},
      {"d":"2023-01-06","k":"N","v":2250,"lo":1800,"hi":2700},
      {"d":"2023-08-24","k":"N","v":1080,"lo":800,"hi":1500},
      {"d":"2023-09-24","k":"S","v":1380,"lo":1000,"hi":1970},
      {"d":"2023-09-30","k":"S","v":1350,"lo":1000,"hi":1900},
      {"d":"2023-11-05","k":"N","v":1760,"lo":1300,"hi":2550},
      {"d":"2023-12-02","k":"S","v":2250,"lo":1700,"hi":3000},
      {"d":"2023-12-16","k":"S","v":3100,"lo":2400,"hi":4600},
      {"d":"2023-12-19","k":"S","v":2700,"lo":2100,"hi":4000},
      {"d":"2023-12-16","k":"N","v":3660,"lo":2800,"hi":5370},
      {"d":"2023-12-22","k":"N","v":3420,"lo":2600,"hi":5080},
      {"d":"2024-01-24","k":"S","v":3460,"lo":2600,"hi":5080},
      {"d":"2024-02-20","k":"S","v":1140,"lo":800,"hi":1600},
      {"d":"2024-02-27","k":"N","v":2530,"lo":1780,"hi":3700},
      {"d":"2024-05-15","k":"N","v":1400,"lo":1000,"hi":2000},
      {"d":"2024-06-04","k":"N","v":3040,"lo":2040,"hi":4450},
      {"d":"2024-06-14","k":"S","v":1540,"lo":1100,"hi":2300},
      {"d":"2024-07-05","k":"S","v":7080,"lo":4800,"hi":10300},
      {"d":"2024-07-16","k":"N","v":1540,"lo":1100,"hi":2200},
      {"d":"2024-08-09","k":"N","v":1430,"lo":1000,"hi":2100},
      {"d":"2024-08-30","k":"S","v":1350,"lo":1000,"hi":2000},
      {"d":"2024-09-02","k":"N","v":2190,"lo":1400,"hi":3190},
      {"d":"2024-09-06","k":"S","v":1270,"lo":900,"hi":1900},
      {"d":"2024-10-20","k":"N","v":880,"lo":600,"hi":1200},
      {"d":"2024-11-15","k":"S","v":1200,"lo":850,"hi":1700},
      {"d":"2024-12-09","k":"S","v":5950,"lo":4050,"hi":8700},
      {"d":"2024-12-24","k":"S","v":2190,"lo":1600,"hi":3100},
      {"d":"2024-12-10","k":"N","v":2100,"lo":1500,"hi":3000},
      {"d":"2024-12-27","k":"N","v":1770,"lo":1300,"hi":2500},
      {"d":"2025-02-11","k":"S","v":2550,"lo":1800,"hi":3700},
      {"d":"2025-02-21","k":"S","v":1525,"lo":1100,"hi":2300},
      {"d":"2025-02-23","k":"N","v":2615,"lo":1800,"hi":3850},
      {"d":"2025-05-16","k":"N","v":510,"lo":350,"hi":700},
      {"d":"2025-09-03","k":"N","v":720,"lo":500,"hi":1000},
      {"d":"2025-10-17","k":"N","v":670,"lo":450,"hi":900},
      {"d":"2025-12-10","k":"S","v":1150,"lo":800,"hi":1600},
      {"d":"2026-02-10","k":"S","v":770,"lo":550,"hi":1000},
      {"d":"2026-03-15","k":"N","v":420,"lo":300,"hi":600},
      {"d":"2026-04-15","k":"S","v":300,"lo":200,"hi":420}
    ]
  },
  "resolve": {"axis": {"x": "independent", "y": "independent"}},
  "layer": [
    {
      "data": {"name": "m"},
      "mark": {"type": "point", "opacity": 0, "size": 1},
      "encoding": {
        "x": {"field": "d", "type": "temporal",
          "scale": {"type": "utc", "domain": [{"year": 2020, "month": 3, "date": 1, "utc": true}, {"year": 2026, "month": 9, "date": 1, "utc": true}]},
          "axis": {"orient": "bottom", "title": null, "labels": false, "ticks": false, "domain": false, "grid": true, "gridColor": "#ececec",
            "values": [{"year":2020,"month":6,"date":1,"utc":true},{"year":2020,"month":12,"date":1,"utc":true},{"year":2021,"month":6,"date":1,"utc":true},{"year":2021,"month":12,"date":1,"utc":true},{"year":2022,"month":6,"date":1,"utc":true},{"year":2022,"month":12,"date":1,"utc":true},{"year":2023,"month":6,"date":1,"utc":true},{"year":2023,"month":12,"date":1,"utc":true},{"year":2024,"month":6,"date":1,"utc":true},{"year":2024,"month":12,"date":1,"utc":true},{"year":2025,"month":6,"date":1,"utc":true},{"year":2025,"month":12,"date":1,"utc":true},{"year":2026,"month":6,"date":1,"utc":true}]}},
        "y": {"field": "n", "type": "quantitative",
          "scale": {"domain": [0, 22000], "nice": false},
          "axis": {"orient": "left", "title": null, "labels": false, "ticks": false, "domain": false, "grid": true, "gridColor": "#ececec",
            "values": [1000, 2000, 3000, 4000, 6000, 7000, 8000, 9000, 11000, 12000, 13000, 14000, 16000, 17000, 18000, 19000, 21000]}}
      }
    },
    {
      "layer": [
        {
          "data": {"name": "m"},
          "transform": [{"filter": "isValid(datum.sa)"}],
          "mark": {"type": "line", "color": "#843C0C", "strokeWidth": 3},
          "encoding": {
            "x": {"field": "d", "type": "temporal",
              "scale": {"type": "utc", "domain": [{"year": 2020, "month": 3, "date": 1, "utc": true}, {"year": 2026, "month": 9, "date": 1, "utc": true}]},
              "axis": {"orient": "bottom", "title": null, "format": "%-m/%-d/%Y", "labelFlush": false, "labelOverlap": false, "labelPadding": 11, "ticks": false, "domain": true, "domainColor": "#d9d9d9", "grid": true, "gridColor": "#d9d9d9",
                "values": [{"year":2020,"month":3,"date":1,"utc":true},{"year":2020,"month":9,"date":1,"utc":true},{"year":2021,"month":3,"date":1,"utc":true},{"year":2021,"month":9,"date":1,"utc":true},{"year":2022,"month":3,"date":1,"utc":true},{"year":2022,"month":9,"date":1,"utc":true},{"year":2023,"month":3,"date":1,"utc":true},{"year":2023,"month":9,"date":1,"utc":true},{"year":2024,"month":3,"date":1,"utc":true},{"year":2024,"month":9,"date":1,"utc":true},{"year":2025,"month":3,"date":1,"utc":true},{"year":2025,"month":9,"date":1,"utc":true},{"year":2026,"month":3,"date":1,"utc":true},{"year":2026,"month":9,"date":1,"utc":true}]}},
            "y": {"field": "sa", "type": "quantitative",
              "scale": {"domain": [0, 22000], "nice": false},
              "axis": {"orient": "left", "title": "RNA copies/mL", "format": "d", "values": [0, 5000, 10000, 15000, 20000], "ticks": false, "domain": false, "grid": true, "gridColor": "#d9d9d9", "labelPadding": 12, "titlePadding": 5}}
          }
        },
        {
          "data": {"name": "m"},
          "transform": [{"filter": "isValid(datum.na)"}],
          "mark": {"type": "line", "color": "#375623", "strokeWidth": 3},
          "encoding": {
            "x": {"field": "d", "type": "temporal"},
            "y": {"field": "na", "type": "quantitative"}
          }
        },
        {
          "data": {"name": "m"},
          "transform": [{"filter": "isValid(datum.sh)"}],
          "mark": {"type": "rule", "color": "rgba(237,125,49,0.6)", "strokeWidth": 1},
          "encoding": {
            "x": {"field": "d", "type": "temporal"},
            "y": {"field": "s", "type": "quantitative"},
            "y2": {"field": "sh"}
          }
        },
        {
          "data": {"name": "x"},
          "transform": [{"filter": "datum.k == 'S'"}],
          "mark": {"type": "rule", "color": "rgba(237,125,49,0.6)", "strokeWidth": 1},
          "encoding": {
            "x": {"field": "d", "type": "temporal"},
            "y": {"field": "lo", "type": "quantitative"},
            "y2": {"field": "hi"}
          }
        },
        {
          "data": {"name": "m"},
          "mark": {"type": "point", "filled": true, "size": 85, "opacity": 1},
          "encoding": {
            "x": {"field": "d", "type": "temporal"},
            "y": {"field": "s", "type": "quantitative"},
            "color": {"datum": "Southern|(copies/mL)", "type": "nominal",
              "scale": {"domain": ["Southern|(copies/mL)", "Northern|(copies/mL)", "Southern|7 day avg", "Northern|7 day avg"], "range": ["rgba(237,125,49,0.5)", "rgba(112,173,71,0.55)", "#843C0C", "#375623"]},
              "legend": {"orient": "none", "legendX": 220, "legendY": 614, "direction": "horizontal", "columns": 4, "title": null, "labelExpr": "split(datum.label, '|')", "labelBaseline": "top", "symbolSize": 90, "labelOffset": 12, "columnPadding": 14,
                "encoding": {"labels": {"dy": {"value": -5}}}}},
            "shape": {"datum": "Southern|(copies/mL)", "type": "nominal",
              "scale": {"domain": ["Southern|(copies/mL)", "Northern|(copies/mL)", "Southern|7 day avg", "Northern|7 day avg"], "range": ["circle", "circle", "M-3,-0.45H3V0.45H-3Z", "M-3,-0.45H3V0.45H-3Z"]}}
          }
        },
        {
          "data": {"name": "x"},
          "transform": [{"filter": "datum.k == 'S'"}],
          "mark": {"type": "point", "filled": true, "size": 85, "opacity": 1, "color": "rgba(237,125,49,0.5)"},
          "encoding": {
            "x": {"field": "d", "type": "temporal"},
            "y": {"field": "v", "type": "quantitative"}
          }
        },
        {
          "data": {"name": "m"},
          "transform": [{"filter": "isValid(datum.nh)"}],
          "mark": {"type": "rule", "color": "rgba(112,173,71,0.6)", "strokeWidth": 1},
          "encoding": {
            "x": {"field": "d", "type": "temporal"},
            "y": {"field": "n", "type": "quantitative"},
            "y2": {"field": "nh"}
          }
        },
        {
          "data": {"name": "x"},
          "transform": [{"filter": "datum.k == 'N'"}],
          "mark": {"type": "rule", "color": "rgba(112,173,71,0.6)", "strokeWidth": 1},
          "encoding": {
            "x": {"field": "d", "type": "temporal"},
            "y": {"field": "lo", "type": "quantitative"},
            "y2": {"field": "hi"}
          }
        },
        {
          "data": {"name": "m"},
          "mark": {"type": "point", "filled": true, "size": 85, "opacity": 1},
          "encoding": {
            "x": {"field": "d", "type": "temporal"},
            "y": {"field": "n", "type": "quantitative"},
            "color": {"datum": "Northern|(copies/mL)", "type": "nominal"},
            "shape": {"datum": "Northern|(copies/mL)", "type": "nominal"}
          }
        },
        {
          "data": {"name": "x"},
          "transform": [{"filter": "datum.k == 'N'"}],
          "mark": {"type": "point", "filled": true, "size": 85, "opacity": 1, "color": "rgba(112,173,71,0.55)"},
          "encoding": {
            "x": {"field": "d", "type": "temporal"},
            "y": {"field": "v", "type": "quantitative"}
          }
        }
      ]
    }
  ]
}
